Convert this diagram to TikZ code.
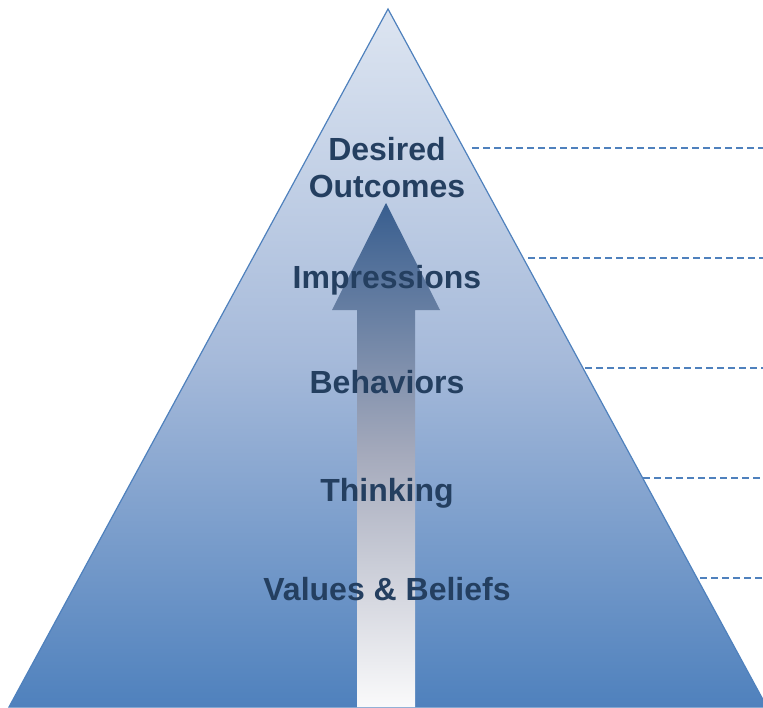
\documentclass[tikz,border=0pt]{standalone}
\usepackage{fontspec}
\setmainfont{Liberation Sans}
\usepackage{tikz}
\usetikzlibrary{calc}
\definecolor{Pedge}{RGB}{79,129,189}
\definecolor{Ptop}{RGB}{221,229,241}
\definecolor{Pmid}{RGB}{166,186,218}
\definecolor{Pbase}{RGB}{79,129,189}
\definecolor{Atop}{RGB}{56,94,143}
\definecolor{Amid}{RGB}{165,170,188}
\definecolor{Abase}{RGB}{250,250,251}
\definecolor{Ptext}{RGB}{36,63,96}
\newcommand{\Plevel}[3]{%
    \coordinate (#1-l) at (#2,#3);
    \coordinate (#1-r) at (763,#3);
    \draw[levelline] (#1-l) -- (#1-r);
  }

\begin{document}
\begin{tikzpicture}[x=1pt,y=-1pt,
    levelline/.style={draw=Pedge, line width=1.3pt, dash pattern=on 7pt off 4pt},
    level/.style={text=Ptext, font=\fontsize{32}{37.5}\selectfont\bfseries,
      inner sep=0pt, align=center}]
  \useasboundingbox (0,0) rectangle (763,707);

  % ------------------------------------------------
  % Pyramid body, light at the apex, darker at the base
  % ------------------------------------------------
  \coordinate (apex) at (388,9);
  \coordinate (baseL) at (9,707);
  \coordinate (baseR) at (767,707);
  \path[draw=Pedge, line width=1.2pt, top color=Ptop, bottom color=Pbase,
    middle color=Pmid] (apex) -- (baseR) -- (baseL) -- cycle;

  % Upward arrow through the levels
  \path[top color=Atop, bottom color=Abase, middle color=Amid]
    (357,707) -- (357,310) -- (332,310) -- (386,203)
    -- (440,310) -- (415,310) -- (415,707) -- cycle;

  % Level guides out to the right
  \Plevel{outcomes}{472}{148}
  \Plevel{impress}{528}{258}
  \Plevel{behave}{585}{368}
  \Plevel{think}{643}{478}
  \Plevel{values}{700}{578}

  % Level labels
  \node[level, anchor=north] (Loutcomes) at (387,137) {Desired\\Outcomes};
  \node[level, anchor=base] (Limpress) at (387,288) {Impressions};
  \node[level, anchor=base] (Lbehave) at (387,393) {Behaviors};
  \node[level, anchor=base] (Lthink) at (387,501) {Thinking};
  \node[level, anchor=base] (Lvalues) at (387,600) {Values \& Beliefs};
\end{tikzpicture}
\end{document}
